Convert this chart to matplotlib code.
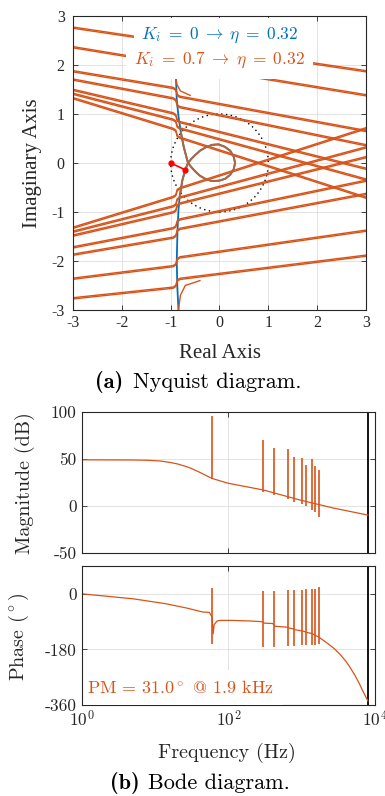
import numpy as np
import matplotlib
matplotlib.use("Agg")
import matplotlib.pyplot as plt
from matplotlib.patches import Circle
from matplotlib.ticker import NullLocator

plt.rcParams["mathtext.fontset"] = "cm"
plt.rcParams["axes.unicode_minus"] = False

ORANGE = "#D95319"
BLUE = "#0072BD"
LOOP = "#B4653E"  # where both loci overlap
GRID = "#DEDEDE"
AXC = "#262626"

# ---------------- Nyquist data ----------------
# Ki = 0 locus (blue)
blue_re = [-0.89, -0.875, -0.84, -0.79, -0.73, -0.645,
           -0.58, -0.50, -0.40, -0.28, -0.15, 0.0, 0.12, 0.22, 0.29, 0.32,
           0.29, 0.22, 0.11, -0.02, -0.15, -0.28, -0.40, -0.50, -0.58, -0.645,
           -0.70, -0.76, -0.815, -0.84, -0.86, -0.875, -0.865, -0.84]
blue_im = [1.71, 1.29, 0.95, 0.62, 0.32, 0.0,
           -0.08, -0.17, -0.26, -0.33, -0.37, -0.36, -0.32, -0.24, -0.13, 0.0,
           0.13, 0.25, 0.33, 0.38, 0.37, 0.32, 0.25, 0.16, 0.08, 0.0,
           -0.14, -0.35, -0.69, -0.96, -1.37, -1.98, -2.5, -3.0]
# Ki = 0.7 locus ends (orange)
top_re = [-0.89, -0.87, -0.80, -0.60]
top_im = [1.71, 1.60, 1.47, 1.38]
bot_re = [-0.84, -0.80, -0.70, -0.40]
bot_im = [-3.0, -2.70, -2.50, -2.40]
# resonance branches: imaginary part where they meet Re = -3 and Re = 3
up_left = [2.75, 2.35, 1.86, 1.69, 1.48, 1.40, 1.31]
up_right = [1.86, 1.37, 0.64, 0.35, -0.13, -0.35, -0.72]
lo_left = [-1.31, -1.39, -1.47, -1.71, -1.86, -2.35, -2.75]
lo_right = [0.72, 0.33, 0.13, -0.35, -0.62, -1.37, -1.88]
path_re = -0.88  # where the branches cross the near-vertical locus
# closest point to -1
margin_re = [-1.0, -0.70]
margin_im = [0.0, -0.14]

# ---------------- Bode data ----------------
mag_f = [1, 5, 8, 12, 16, 20, 25, 30, 40, 53, 60, 66, 100, 300, 950, 2700, 8000]
mag_db = [48.8, 48.6, 48.3, 47.5, 46.0, 44.5, 42.3, 40.2, 35.8, 31, 29, 28, 23.8, 16.7, 6,
          -2.5, -10]
harm_f = [60, 300, 420, 660, 780, 1020, 1140, 1380, 1500, 1740]
mag_top = [95.5, 69.5, 61.7, 60.6, 51.8, 50.4, 43.3, 49.3, 42.6, 37.6]
mag_bot = [28, 14.5, 11.4, 6.8, 4.3, 1.5, -0.3, -4.6, -7, -11.7]

ph_f = [1, 5, 14, 27, 45, 55, 60, 62, 64, 70, 77, 117, 200, 280, 300, 310, 400, 420, 430,
        640, 660, 680, 760, 780, 800, 1000, 1020, 1050, 1120, 1140, 1160, 1360, 1380, 1400,
        1480, 1500, 1520, 1720, 1740, 1760, 2100, 2450, 2800, 3340, 4000, 4570, 5300, 6100,
        7000, 8000]
ph_deg = [0, -16, -32, -46, -59, -60, -75, -130, -100, -88, -86, -86, -88, -90, -92, -95, -96,
          -100, -105, -108, -110, -111, -113, -114, -116, -120, -120, -121, -123, -124, -125,
          -128, -129, -130, -132, -133, -134, -140, -141, -142, -155, -167, -178, -196, -218,
          -238, -263, -290, -320, -347]
ph_top = [18, 8.5, 8.5, 10.8, 10.8, 13, 15, 17, 17, 21]
ph_bot = [-164, -172, -172, -170, -170, -167, -167, -165, -165, -162]
f_nyq = 8000

fig = plt.figure(figsize=(3.85, 7.96), dpi=100)


def style(ax):
    ax.tick_params(direction="in", top=True, right=True, length=3.5, width=0.6,
                   colors=AXC, labelsize=11.5)
    for s in ax.spines.values():
        s.set_color(AXC)
        s.set_linewidth(0.8)
    ax.grid(True, color=GRID, lw=0.6)
    ax.set_axisbelow(True)


def branch(yl, yr, sign):
    k = (yr - yl) / 6.0
    yk = yl + k * (path_re + 3)
    if yk > blue_im[0] or yk < -3:
        return [-3, 3], [yl, yr]
    d = 0.09 * sign
    xs = [-3, path_re - 0.07, path_re - 0.015, path_re + 0.015, path_re + 0.07, 3]
    ys = [yl, yk + d, yk + 0.6 * d, yk - 0.6 * d, yk - d, yr]
    return xs, ys


# ---------------- (a) Nyquist ----------------
ax = fig.add_axes([0.1896, 0.6106, 0.761, 0.3693])
style(ax)
ax.add_patch(Circle((0, 0), 1, fill=False, ls=(0, (1, 2.5)), lw=1.0, color="k"))
ax.plot(blue_re, blue_im, color=BLUE, lw=1.3)
for yl, yr in zip(up_left, up_right):
    xs, ys = branch(yl, yr, 1)
    for off in (0, 0.025):
        ax.plot(xs, np.array(ys) + off, color=ORANGE, lw=1.0)
for yl, yr in zip(lo_left, lo_right):
    xs, ys = branch(yl, yr, -1)
    for off in (0, -0.025):
        ax.plot(xs, np.array(ys) + off, color=ORANGE, lw=1.0)
ax.plot(top_re, top_im, color=ORANGE, lw=1.0)
ax.plot(bot_re, bot_im, color=ORANGE, lw=1.0)
ax.plot(blue_re[3:29], blue_im[3:29], color=LOOP, lw=1.4)
ax.plot(margin_re, margin_im, color="red", lw=1.2, marker="o", ms=3.5)
ax.set_xlim(-3, 3)
ax.set_ylim(-3, 3)
ticks = [-3, -2, -1, 0, 1, 2, 3]
ax.set_xticks(ticks)
ax.set_yticks(ticks)
ax.set_xticklabels([str(t) for t in ticks], fontfamily="Liberation Serif")
ax.set_yticklabels([str(t) for t in ticks], fontfamily="Liberation Serif")
ax.tick_params(axis="y", pad=6)
ax.text(0.0, 2.61, r"$K_i\;=\;0\;\rightarrow\;\eta\;=\;0.32$", color=BLUE, fontsize=12.5,
        ha="center", va="center", zorder=6,
        bbox=dict(facecolor="white", edgecolor="none", pad=5))
ax.text(0.0, 2.10, r"$K_i\;=\;0.7\;\rightarrow\;\eta\;=\;0.32$", color=ORANGE,
        fontsize=12.5, ha="center", va="center", zorder=5,
        bbox=dict(facecolor="white", edgecolor="none", pad=6))

fig.text(0.0857, 0.7952, "Imaginary Axis", rotation=90, ha="center", va="center",
         fontsize=15, fontfamily="Liberation Serif", color=AXC)
fig.text(0.5714, 0.5553, "Real Axis", ha="center", va="center",
         fontsize=15, fontfamily="Liberation Serif", color=AXC)
fig.text(95 / 385, 0.5201, "(a)", ha="left", va="center", fontsize=16, fontfamily="cmb10")
fig.text(133 / 385, 0.5201, "Nyquist diagram.", ha="left", va="center", fontsize=16,
         fontfamily="cmr10")

# ---------------- (b) Bode ----------------
axm = fig.add_axes([0.2122, 0.3057, 0.7618, 0.1771])
axp = fig.add_axes([0.2122, 0.1143, 0.7618, 0.1746])
for a in (axm, axp):
    style(a)
    a.set_xscale("log")
    a.set_xlim(1, 1e4)
    a.set_xticks([1, 100, 10000])
    a.xaxis.set_minor_locator(NullLocator())
    a.axvline(f_nyq, color="k", lw=1.3)

axm.plot(mag_f, mag_db, color=ORANGE, lw=0.9)
axm.vlines(harm_f, mag_bot, mag_top, color=ORANGE, lw=1.2)
axm.set_ylim(-50, 100)
axm.set_yticks([-50, 0, 50, 100])
axm.set_yticklabels(["-50", "0", "50", "100"], fontfamily="cmr10", fontsize=12.5)
axm.set_xticklabels([])

axp.plot(ph_f, ph_deg, color=ORANGE, lw=0.9)
axp.vlines(harm_f, ph_bot, ph_top, color=ORANGE, lw=1.2)
axp.set_ylim(-360, 90)
axp.set_yticks([-360, -180, 0])
axp.set_yticklabels(["-360", "-180", "0"], fontfamily="cmr10", fontsize=12.5)
axp.set_xticklabels([r"$10^0$", r"$10^2$", r"$10^4$"], fontsize=12.5)
axp.spines["left"].set_zorder(6)
axp.text(0.018, 0.086, r"PM = 31.0$^\circ$ @ 1.9 kHz", transform=axp.transAxes,
         color=ORANGE, fontsize=13, fontfamily="cmr10", ha="left", va="baseline",
         zorder=5, bbox=dict(facecolor="white", edgecolor="none", pad=6.5))

fig.text(0.065, 0.3932, "Magnitude (dB)", rotation=90, ha="center", va="center",
         fontsize=14.5, fontfamily="cmr10", color=AXC)
fig.text(0.049, 0.1997, r"Phase $(^\circ)$", rotation=90, ha="center", va="center",
         fontsize=14.5, fontfamily="cmr10", color=AXC)
fig.text(0.59, 0.054, "Frequency (Hz)", ha="center", va="center",
         fontsize=14.5, fontfamily="cmr10", color=AXC)
fig.text(110 / 385, 0.0163, "(b)", ha="left", va="center", fontsize=16, fontfamily="cmb10")
fig.text(148 / 385, 0.0163, "Bode diagram.", ha="left", va="center", fontsize=16,
         fontfamily="cmr10")

fig.savefig("out.png", dpi=100)
